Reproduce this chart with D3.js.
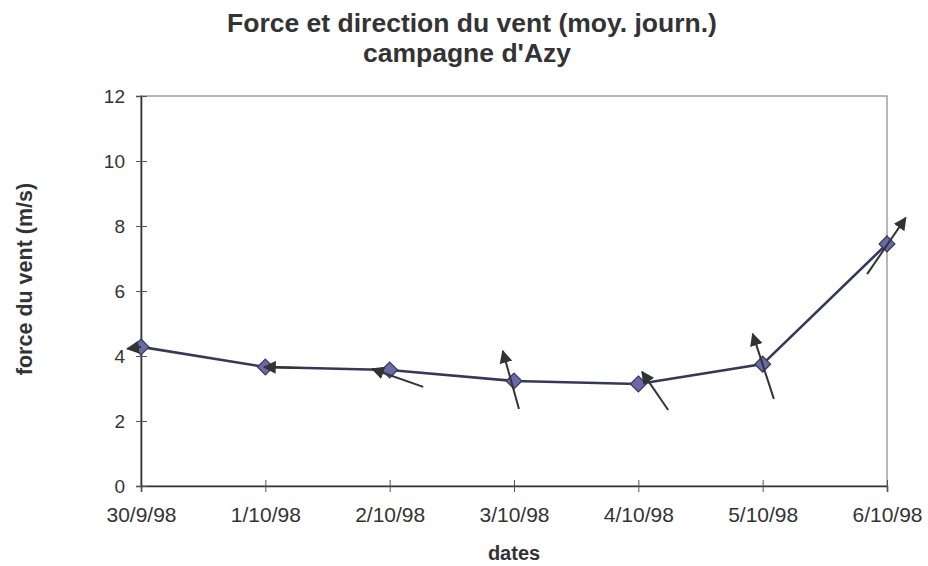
<!DOCTYPE html>
<html>
<head>
<meta charset="utf-8">
<script src="https://cdn.jsdelivr.net/npm/d3@7"></script>
<style>
  html, body { margin: 0; padding: 0; background: #fff; }
  #chart { width: 928px; height: 566px; }
</style>
</head>
<body>
<div id="chart"></div>
<script>
// categories (daily means)
const dates = ["30/9/98", "1/10/98", "2/10/98", "3/10/98", "4/10/98", "5/10/98", "6/10/98"];
// wind force (m/s)
const force = [4.28, 3.66, 3.57, 3.23, 3.14, 3.75, 7.45];
// wind direction arrows: tail and head, as (category offset, force units)
const arrowTailX = [0.00, 1.28, 2.27, 3.04, 4.24, 5.09, 5.84];
const arrowTailY = [4.28, 3.63, 3.05, 2.37, 2.34, 2.68, 6.52];
const arrowHeadX = [-0.11, 0.99, 1.86, 2.91, 4.03, 4.92, 6.15];
const arrowHeadY = [4.22, 3.66, 3.60, 4.15, 3.51, 4.68, 8.25];
const yTicks = [0, 2, 4, 6, 8, 10, 12];

function renderWindChart(selector = "#chart") {
    const width = 928;
    const height = 566;
    const margin = { top: 96, right: 41, bottom: 80, left: 141 };
    const font = "'Liberation Sans', Arial, sans-serif";

    const svg = d3.select(selector).append("svg")
        .attr("width", width)
        .attr("height", height)
        .style("font-family", font);

    const x = d3.scalePoint()
        .domain(dates)
        .range([margin.left, width - margin.right])
        .padding(0);

    // same horizontal mapping, but by index so arrows can sit between dates
    const xi = d3.scaleLinear()
        .domain([0, dates.length - 1])
        .range([margin.left, width - margin.right]);

    const y = d3.scaleLinear()
        .domain([0, 12])
        .range([height - margin.bottom, margin.top]);

    // plot frame
    svg.append("rect")
        .attr("x", margin.left)
        .attr("y", margin.top)
        .attr("width", width - margin.left - margin.right)
        .attr("height", height - margin.top - margin.bottom)
        .attr("fill", "none")
        .attr("stroke", "#888")
        .attr("stroke-width", 1.2);

    const xAxis = svg.append("g")
        .attr("transform", `translate(0,${height - margin.bottom})`)
        .call(d3.axisBottom(x).tickSize(6).tickPadding(15));
    xAxis.select(".domain").attr("stroke", "#333").attr("stroke-width", 1.6);
    xAxis.selectAll(".tick line").attr("y1", -6).attr("stroke", "#555");
    xAxis.selectAll("text")
        .attr("fill", "#333")
        .style("font-size", "21px")
        .style("font-family", font);

    const yAxis = svg.append("g")
        .attr("transform", `translate(${margin.left},0)`)
        .call(d3.axisLeft(y).tickValues(yTicks).tickSize(5).tickPadding(11));
    yAxis.select(".domain").attr("stroke", "#333").attr("stroke-width", 1.6);
    yAxis.selectAll(".tick line").attr("x1", 6).attr("stroke", "#555");
    yAxis.selectAll("text")
        .attr("fill", "#333")
        .style("font-size", "19px")
        .style("font-family", font);

    // series line
    const line = d3.line()
        .x((d, i) => x(dates[i]))
        .y(d => y(d));

    svg.append("path")
        .datum(force)
        .attr("fill", "none")
        .attr("stroke", "#37375a")
        .attr("stroke-width", 2.6)
        .attr("d", line);

    // arrowhead marker
    svg.append("defs").append("marker")
        .attr("id", "head")
        .attr("viewBox", "0 0 10 10")
        .attr("refX", 9)
        .attr("refY", 5)
        .attr("markerWidth", 6.5)
        .attr("markerHeight", 6.5)
        .attr("markerUnits", "strokeWidth")
        .attr("orient", "auto")
        .append("path")
        .attr("d", "M0,0 L10,5 L0,10 Z")
        .attr("fill", "#333");

    // diamonds
    svg.append("g")
        .selectAll("path")
        .data(force)
        .join("path")
        .attr("transform", (d, i) => `translate(${x(dates[i])},${y(d)})`)
        .attr("d", d3.symbol(d3.symbolDiamond2, 160))
        .attr("fill", "#6a6aa8")
        .attr("stroke", "#37375a")
        .attr("stroke-width", 1.2);

    // wind direction arrows
    svg.append("g")
        .selectAll("line")
        .data(dates)
        .join("line")
        .attr("x1", (d, i) => xi(arrowTailX[i]))
        .attr("y1", (d, i) => y(arrowTailY[i]))
        .attr("x2", (d, i) => xi(arrowHeadX[i]))
        .attr("y2", (d, i) => y(arrowHeadY[i]))
        .attr("stroke", "#333")
        .attr("stroke-width", 2)
        .attr("marker-end", "url(#head)");

    // titles
    svg.append("text")
        .attr("x", 472)
        .attr("y", 32)
        .attr("text-anchor", "middle")
        .attr("fill", "#333")
        .style("font-size", "26.5px")
        .style("font-weight", "bold")
        .text("Force et direction du vent (moy. journ.)");

    svg.append("text")
        .attr("x", 467)
        .attr("y", 62)
        .attr("text-anchor", "middle")
        .attr("fill", "#333")
        .style("font-size", "26.5px")
        .style("font-weight", "bold")
        .text("campagne d'Azy");

    svg.append("text")
        .attr("x", 514)
        .attr("y", 560)
        .attr("text-anchor", "middle")
        .attr("fill", "#333")
        .style("font-size", "20px")
        .style("font-weight", "bold")
        .text("dates");

    svg.append("text")
        .attr("transform", "rotate(-90)")
        .attr("x", -279)
        .attr("y", 32)
        .attr("text-anchor", "middle")
        .attr("fill", "#333")
        .style("font-size", "21.5px")
        .style("font-weight", "bold")
        .text("force du vent (m/s)");
}

renderWindChart();
</script>
</body>
</html>
